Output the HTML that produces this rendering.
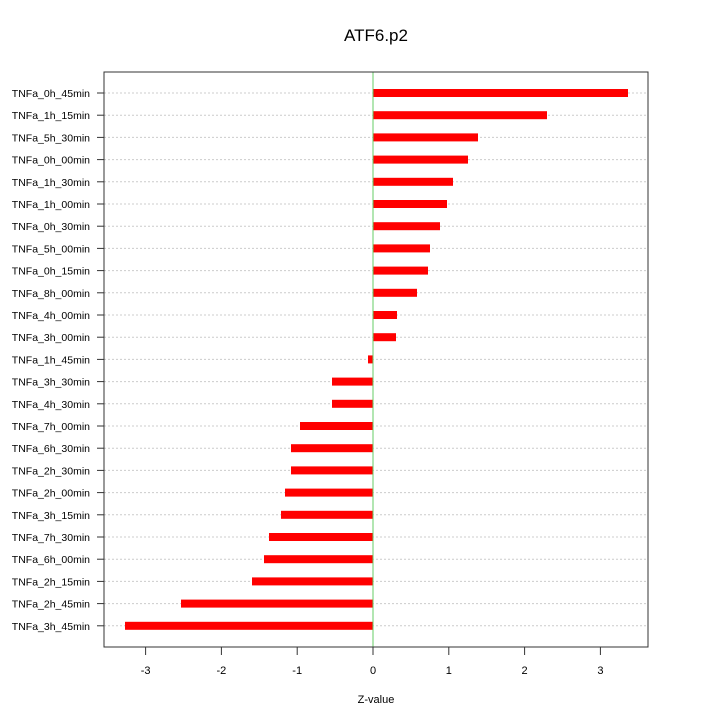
<!DOCTYPE html><html><head><style>body{margin:0;background:#fff}svg text{font-family:"Liberation Sans",sans-serif}</style></head><body>
<svg width="720" height="720" xmlns="http://www.w3.org/2000/svg">
<text x="376" y="41" font-size="17" text-anchor="middle">ATF6.p2</text>
<g id="g"></g>
<line x1="373" y1="72" x2="373" y2="647" stroke="#6c6" stroke-width="1"/>
<rect x="104" y="72" width="544" height="575" fill="none" stroke="#333" stroke-width="1"/>
<text x="376" y="703" font-size="11" text-anchor="middle">Z-value</text>
</svg>
<script>
var names=["TNFa_0h_45min","TNFa_1h_15min","TNFa_5h_30min","TNFa_0h_00min","TNFa_1h_30min","TNFa_1h_00min","TNFa_0h_30min","TNFa_5h_00min","TNFa_0h_15min","TNFa_8h_00min","TNFa_4h_00min","TNFa_3h_00min","TNFa_1h_45min","TNFa_3h_30min","TNFa_4h_30min","TNFa_7h_00min","TNFa_6h_30min","TNFa_2h_30min","TNFa_2h_00min","TNFa_3h_15min","TNFa_7h_30min","TNFa_6h_00min","TNFa_2h_15min","TNFa_2h_45min","TNFa_3h_45min"];
var ends=[628,547,478,468,453,447,440,430,428,417,397,396,368,332,332,300,291,291,285,281,269,264,252,181,125];
var s="",ns="http://www.w3.org/2000/svg";
for(var i=0;i<25;i++){var y=93+i*22.2;
s+='<line x1="104" x2="648" y1="'+y+'" y2="'+y+'" stroke="#ccc" stroke-dasharray="2,2"/>';
s+='<line x1="97" x2="104" y1="'+y+'" y2="'+y+'" stroke="#333"/>';
s+='<text x="90" y="'+(y+4)+'" font-size="10.5" text-anchor="end">'+names[i]+'</text>';
var a=Math.min(373,ends[i]),b=Math.max(373,ends[i]);
s+='<rect x="'+a+'" y="'+(y-4)+'" width="'+(b-a)+'" height="8" fill="#f00"/>';}
for(var v=-3;v<=3;v++){var x=373+v*75.8;
s+='<line x1="'+x+'" x2="'+x+'" y1="647" y2="655" stroke="#333"/>';
s+='<text x="'+x+'" y="674" font-size="11" text-anchor="middle">'+v+'</text>';}
document.getElementById("g").innerHTML=s;
</script></body></html>
